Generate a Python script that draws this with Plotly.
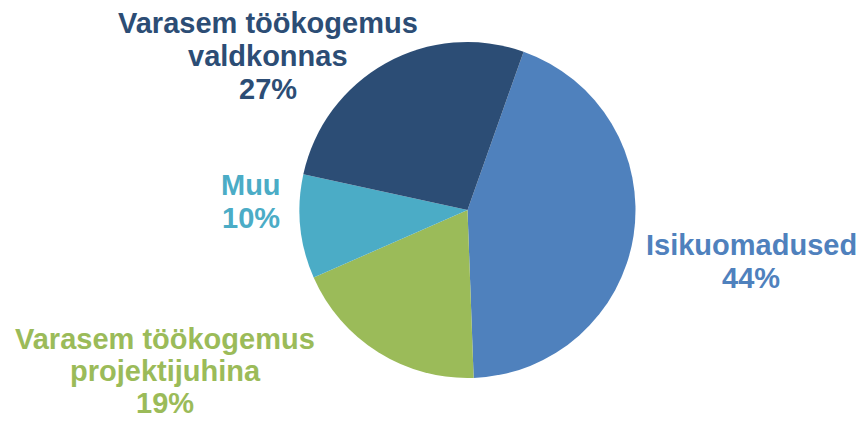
import plotly.graph_objects as go

# Data
categories = ["Isikuomadused", "Varasem töökogemus projektijuhina", "Muu", "Varasem töökogemus valdkonnas"]
label_lines = [["Isikuomadused"], ["Varasem töökogemus", "projektijuhina"], ["Muu"], ["Varasem töökogemus", "valdkonnas"]]
values = [44, 19, 10, 27]

# Styles
colors = ["#4F81BD", "#9BBB59", "#4BACC6", "#2C4D75"]
W, H = 861, 421
# label anchor (center x, first-line center y) in pixels, line spacing
label_pos = [(751, 245), (165, 339), (251, 185), (268, 23)]
line_gaps = [33, 32, 33, 33]
font_size = 29

cx, cy, r = 467.5, 210, 168

fig = go.Figure(go.Pie(
    labels=categories,
    values=values,
    sort=False,
    direction="clockwise",
    rotation=19.5,
    marker=dict(colors=colors, line=dict(width=0)),
    textinfo="none",
    hoverinfo="label+percent",
    showlegend=False,
    domain=dict(x=[(cx - r) / W, (cx + r) / W], y=[1 - (cy + r) / H, 1 - (cy - r) / H]),
))

total = sum(values)
annotations = []
for lines, v, col, (px, py), gap in zip(label_lines, values, colors, label_pos, line_gaps):
    all_lines = lines + [f"{round(100 * v / total)}%"]
    for i, t in enumerate(all_lines):
        annotations.append(dict(
            x=px / W, y=1 - (py + i * gap) / H, xref="paper", yref="paper",
            text=f"<b>{t}</b>", showarrow=False, xanchor="center", yanchor="middle",
            font=dict(family="Liberation Sans, Arial, sans-serif", size=font_size, color=col),
        ))

fig.update_layout(
    width=W, height=H,
    margin=dict(l=0, r=0, t=0, b=0),
    paper_bgcolor="white", plot_bgcolor="white",
    annotations=annotations,
)

fig.write_html(
    "out.html",
    config={"displayModeBar": False},
    post_script="document.body.style.margin='0';document.body.style.overflow='hidden';",
)
